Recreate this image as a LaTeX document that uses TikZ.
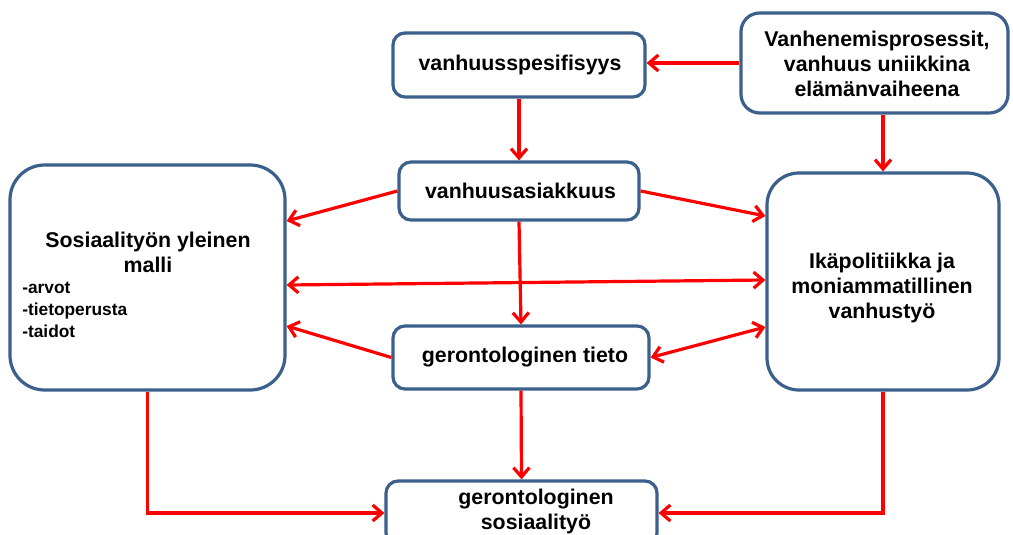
\documentclass[tikz,border=0pt]{standalone}
\usepackage{fontspec}
\setmainfont{Liberation Sans}
\usetikzlibrary{arrows.meta,calc}
\definecolor{boxblue}{RGB}{60,96,140}
\definecolor{arrred}{RGB}{255,0,0}
\begin{document}
\begin{tikzpicture}[x=0.75pt,y=-0.75pt,
  box/.style={draw=boxblue,line width=2.4pt,fill=white,rounded corners=#1,inner sep=0pt},
  box/.default=9pt,
  txt/.style={font=\bfseries\fontsize{16}{18.75}\selectfont,align=center,inner sep=0pt},
  smalltxt/.style={font=\bfseries\fontsize{13}{16.5}\selectfont,align=left,inner sep=0pt},
  conn/.style={draw=arrred,line width=2.4pt,-{Straight Barb[length=7pt,width=12pt,line width=2.4pt]}},
  conn2/.style={draw=arrred,line width=2.4pt,{Straight Barb[length=7pt,width=12pt,line width=2.4pt]}-{Straight Barb[length=7pt,width=12pt,line width=2.4pt]}}
]
\clip (0,0) rectangle (1013,535);
\fill[white] (0,0) rectangle (1013,535);

% boxes
\node[box,minimum width=189pt,minimum height=48pt] (spes) at (519,65) {};
\node[box=14pt,minimum width=200.25pt,minimum height=75pt] (proc) at (874.5,63) {};
\node[box,minimum width=180pt,minimum height=43.5pt] (asiak) at (519,191) {};
\node[box,minimum width=192pt,minimum height=47.25pt] (tieto) at (521,357.5) {};
\node[box=26pt,minimum width=206.25pt,minimum height=168.75pt] (left) at (147.5,277.5) {};
\node[box=24pt,minimum width=174pt,minimum height=162.75pt] (right) at (883,281.5) {};
\node[box,minimum width=203.25pt,minimum height=48pt] (bottom) at (521.5,513) {};

% texts
\node[txt] (tspes) at (520,65) {vanhuusspesifisyys};
\node[txt] (tproc) at (877,64) {Vanhenemisprosessit,\\vanhuus uniikkina\\elämänvaiheena};
\node[txt] (tasiak) at (520.5,191) {vanhuusasiakkuus};
\node[txt] (ttieto) at (525,357) {gerontologinen tieto};
\node[txt] (tleft) at (148,252) {Sosiaalityön yleinen\\malli};
\node[smalltxt,anchor=west] (tlist) at (22,310) {-arvot\\-tietoperusta\\-taidot};
\node[txt] (tright) at (882,288) {Ikäpolitiikka ja\\moniammatillinen\\vanhustyö};
\node[txt] (tbottom) at (536,511) {gerontologinen\\sosiaalityö};

% connectors
\draw[conn] (proc.west) -- (spes.east |- proc.west);
\draw[conn] (spes.south) -- (asiak.north);
\draw[conn] (asiak.west) -- (left.east |- 0,221);
\draw[conn] (asiak.east) -- (right.west |- 0,216);
\draw[conn2] (left.east |- 0,285) -- (right.west |- 0,280);
\draw[conn] (asiak.south) -- (tieto.north);
\draw[conn] (tieto.west) -- (left.east |- 0,326);
\draw[conn2] (tieto.east) -- (right.west |- 0,327);
\draw[conn] (right.north |- proc.south) -- (right.north);
\draw[conn] (tieto.south) -- (bottom.north);
\draw[conn] (left.south) |- (bottom.west);
\draw[conn] (right.south) |- (bottom.east);
\end{tikzpicture}
\end{document}
